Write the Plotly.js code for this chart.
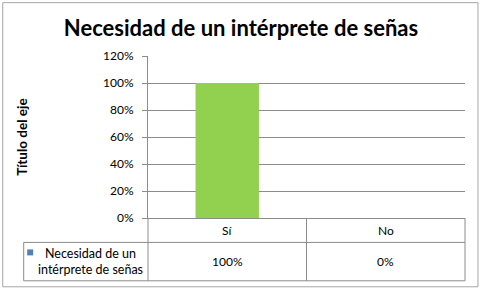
<!DOCTYPE html>
<html>
<head>
<meta charset="utf-8">
<script src="https://cdn.plot.ly/plotly-3.0.1.min.js"></script>
<style>html,body{margin:0;padding:0;background:#fff;}#chart{width:482px;height:290px;}</style>
</head>
<body>
<div id="chart"></div>
<script>
// ---- data ----
const categories = ['Sí', 'No'];
const values = [1.0, 0.0];
const seriesName = 'Necesidad de un intérprete de señas';
const seriesLabelLines = ['Necesidad de un', 'intérprete de señas'];
const chartTitle = 'Necesidad de un intérprete de señas';
const yTitle = 'Título del eje';

// ---- layout geometry ----
const W = 482, H = 290;
const L = 148, R = 465.5, T = 56, B = 218.5;
const pw = R - L, ph = B - T;
const px = x => (x - L) / pw;
const py = y => (B - y) / ph;
const lineCol = '#8c8c8c';
const FONT = 'Lato, "Open Sans", sans-serif';

const fmt = v => Math.round(v * 100) + '%';

const shapes = [];
function seg(x0, y0, x1, y1, col) {
  shapes.push({type: 'line', xref: 'paper', yref: 'paper', x0: px(x0), y0: py(y0), x1: px(x1), y1: py(y1),
    line: {color: col || lineCol, width: 1}});
}
// outer chart border
shapes.push({type: 'rect', xref: 'paper', yref: 'paper', x0: px(2.5), y0: py(2.5), x1: px(478.5), y1: py(287.5),
  line: {color: '#a6a6a6', width: 1}, fillcolor: 'rgba(0,0,0,0)'});
// data table lines
const rowMid = 243, rowBot = 281.5, tblLeft = 23.5, colDiv = (L + R) / 2;
seg(L, B, L, rowBot);
seg(colDiv, B, colDiv, rowBot);
seg(R, B, R, rowBot);
seg(tblLeft, rowMid, R, rowMid);
seg(tblLeft, rowBot, R, rowBot);
seg(tblLeft, rowMid, tblLeft, rowBot);
// legend key square
shapes.push({type: 'rect', xref: 'paper', yref: 'paper', x0: px(27), y0: py(250), x1: px(33), y1: py(256),
  line: {width: 0}, fillcolor: '#4F81BD'});

const annotations = [];
categories.forEach((c, i) => {
  annotations.push({x: c, xref: 'x', y: py((B + rowMid) / 2), yref: 'paper', text: c, showarrow: false,
    font: {family: FONT, size: 12, color: '#000'}, xanchor: 'center', yanchor: 'middle'});
  annotations.push({x: c, xref: 'x', y: py((rowMid + rowBot) / 2), yref: 'paper', text: fmt(values[i]), showarrow: false,
    font: {family: FONT, size: 12, color: '#000'}, xanchor: 'center', yanchor: 'middle'});
});
annotations.push({x: px(90.5), xref: 'paper', y: py(262.5), yref: 'paper',
  text: seriesLabelLines.join('<br>'), showarrow: false, align: 'center',
  font: {family: FONT, size: 12.5, color: '#000'}, xanchor: 'center', yanchor: 'middle'});

const trace = {
  type: 'bar', x: categories, y: values, name: seriesName,
  marker: {color: '#92D050', line: {width: 0}}, hoverinfo: 'skip'
};

const layout = {
  width: W, height: H,
  margin: {l: L, r: W - R, t: T, b: H - B, pad: 0},
  paper_bgcolor: '#fff', plot_bgcolor: '#fff',
  showlegend: false,
  bargap: 0.6,
  title: {text: '<b>' + chartTitle + '</b>', x: 0.5, xref: 'container', xanchor: 'center',
    y: 1 - 28 / H, yref: 'container', yanchor: 'middle',
    font: {family: FONT, size: 22, color: '#000'}},
  xaxis: {type: 'category', showticklabels: false, ticks: '', showgrid: false, zeroline: false,
    showline: true, linecolor: lineCol, linewidth: 1, mirror: false, fixedrange: true},
  yaxis: {range: [0, 1.2], dtick: 0.2, tick0: 0, tickformat: '.0%', showgrid: true, gridcolor: lineCol, gridwidth: 1,
    zeroline: false, showline: true, linecolor: lineCol, linewidth: 1, ticks: 'outside', ticklen: 5, tickcolor: lineCol,
    ticklabelstandoff: 6,
    tickfont: {family: FONT, size: 12, color: '#000'},
    title: {text: '<b>' + yTitle + '</b>', standoff: 72, font: {family: FONT, size: 13.5, color: '#000'}},
    fixedrange: true},
  shapes: shapes,
  annotations: annotations
};

Plotly.newPlot('chart', [trace], layout, {displayModeBar: false, staticPlot: true});
</script>
</body>
</html>
